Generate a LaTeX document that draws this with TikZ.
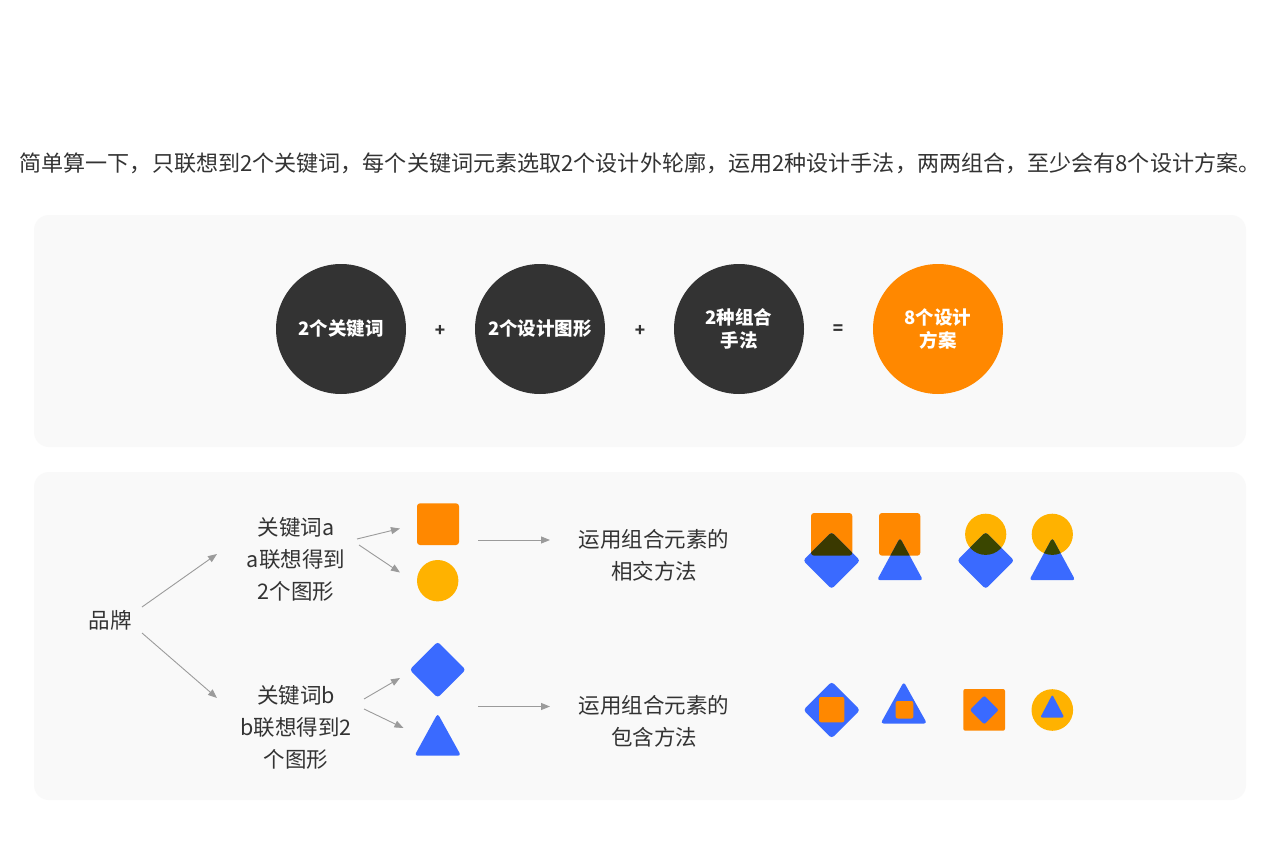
\documentclass[tikz,border=0pt]{standalone}
\usepackage{fontspec}
\setmainfont{Noto Sans CJK SC}
\usetikzlibrary{arrows.meta}
\definecolor{txt}{HTML}{333333}
\definecolor{dark}{HTML}{333333}
\definecolor{org}{HTML}{FF8800}
\definecolor{yel}{HTML}{FFB200}
\definecolor{blu}{HTML}{3A6AFF}
\definecolor{ovO}{HTML}{3A3900}
\definecolor{ovY}{HTML}{3A4600}
\definecolor{panel}{HTML}{F9F9F9}
\definecolor{arrgray}{HTML}{9B9B9B}
\tikzset{
  panelbox/.style={fill=panel, rounded corners=15pt},
  bigcirc/.style={circle, minimum size=130pt, inner sep=0pt, fill=dark, text=white,
     font=\fontsize{18.5}{23}\selectfont\bfseries, align=center},
  opsym/.style={text=txt, font=\fontsize{17}{20}\selectfont\bfseries},
  body/.style={text=txt, font=\fontsize{21.5}{32}\selectfont, align=center},
  arr/.style={draw=arrgray, line width=0.9pt, -{Triangle[length=9pt,width=7pt]}},
  shp/.style={rounded corners=3pt},
  shps/.style={rounded corners=2pt}
}
\begin{document}
\begin{tikzpicture}[x=1pt,y=-1pt]
\useasboundingbox[fill=white] (0,0) rectangle (1280,864);

% title
\node[text=txt, font=\fontsize{22.07}{26}\selectfont] (title) at (640,163)
  {简单算一下，只联想到2个关键词，每个关键词元素选取2个设计外轮廓，运用2种设计手法，两两组合，至少会有8个设计方案。};

% panels
\fill[panelbox] (34,215) rectangle (1246,447);
\fill[panelbox] (34,472) rectangle (1246,800);

% top circles
\node[bigcirc] (c1) at (341,329) {2个关键词};
\node[opsym] (p1) at (440,331) {+};
\node[bigcirc] (c2) at (540,329) {2个设计图形};
\node[opsym] (p2) at (640,331) {+};
\node[bigcirc] (c3) at (739,329) {2种组合\\手法};
\node[opsym] (eq) at (838,330) {=};
\node[bigcirc, fill=org] (c4) at (938,329) {8个设计\\方案};

% left texts
\node[body] (brand) at (110,620) {品牌};
\node[body] (ka) at (296,559) {关键词a\\a联想得到\\2个图形};
\node[body] (kb) at (296,727) {关键词b\\b联想得到2\\个图形};
\node[body] (ma) at (654,555) {运用组合元素的\\相交方法};
\node[body] (mb) at (654,721) {运用组合元素的\\包含方法};

% arrow endpoints
\coordinate (b1s) at (142,607);
\coordinate (b1e) at (217,554);
\coordinate (b2s) at (142,633);
\coordinate (b2e) at (217,698);
\coordinate (a1s) at (357,539);
\coordinate (a1e) at (400,528.5);
\coordinate (a2s) at (359,545);
\coordinate (a2e) at (400,572.5);
\coordinate (a3s) at (478,540);
\coordinate (a3e) at (550,540);
\coordinate (d1s) at (364,699);
\coordinate (d1e) at (400,678);
\coordinate (d2s) at (364,709);
\coordinate (d2e) at (403.5,728);
\coordinate (d3s) at (478,706.5);
\coordinate (d3e) at (550,706.5);

\draw[arr] (b1s) -- (b1e);
\draw[arr] (b2s) -- (b2e);
\draw[arr] (a1s) -- (a1e);
\draw[arr] (a2s) -- (a2e);
\draw[arr] (a3s) -- (a3e);
\draw[arr] (d1s) -- (d1e);
\draw[arr] (d2s) -- (d2e);
\draw[arr] (d3s) -- (d3e);

% source shapes
\fill[org, shp] (417,503.3) rectangle (459,545);
\fill[yel] (437.7,580.7) circle (20.7);
\fill[blu, shp] (437.7,641.7) -- ++(28,28) -- ++(-28,28) -- ++(-28,-28) -- cycle;
\fill[blu, shp] (437.7,713.5) -- (461,755.7) -- (414.5,755.7) -- cycle;

% ---- intersection combos ----
% 1: square + diamond
\fill[org, shp] (811,513) rectangle (852.3,555.7);
\fill[blu, shp] (831.6,532) -- ++(28.5,28.5) -- ++(-28.5,28.5) -- ++(-28.5,-28.5) -- cycle;
\begin{scope}
  \clip[shp] (811,513) rectangle (852.3,555.7);
  \fill[ovO, shp] (831.6,532) -- ++(28.5,28.5) -- ++(-28.5,28.5) -- ++(-28.5,-28.5) -- cycle;
\end{scope}
% 2: square + triangle
\fill[org, shp] (879,513) rectangle (920.3,555.7);
\fill[blu, shp] (900,537.8) -- (923,580.2) -- (877,580.2) -- cycle;
\begin{scope}
  \clip[shp] (879,513) rectangle (920.3,555.7);
  \fill[ovO, shp] (900,537.8) -- (923,580.2) -- (877,580.2) -- cycle;
\end{scope}
% 3: circle + diamond
\fill[yel] (985.7,534.3) circle (20.6);
\fill[blu, shp] (985.7,532) -- ++(28.5,28.5) -- ++(-28.5,28.5) -- ++(-28.5,-28.5) -- cycle;
\begin{scope}
  \clip (985.7,534.3) circle (20.6);
  \fill[ovY, shp] (985.7,532) -- ++(28.5,28.5) -- ++(-28.5,28.5) -- ++(-28.5,-28.5) -- cycle;
\end{scope}
% 4: circle + triangle
\fill[yel] (1052.3,534.3) circle (20.6);
\fill[blu, shp] (1052.3,537.8) -- (1075.3,580.2) -- (1029.3,580.2) -- cycle;
\begin{scope}
  \clip (1052.3,534.3) circle (20.6);
  \fill[ovY, shp] (1052.3,537.8) -- (1075.3,580.2) -- (1029.3,580.2) -- cycle;
\end{scope}

% ---- containment combos ----
% 5: diamond containing square
\fill[blu, shp] (831.7,681.7) -- ++(28.3,28.3) -- ++(-28.3,28.3) -- ++(-28.3,-28.3) -- cycle;
\fill[org, shps] (819,697) rectangle (844.3,722.3);
% 6: triangle containing square
\fill[blu, shp] (903.8,681.8) -- (927,723.5) -- (880.6,723.5) -- cycle;
\fill[org, shps] (895.7,701) rectangle (913.3,718.5);
% 7: square containing diamond
\fill[org, shps] (963.3,689) rectangle (1005,730.7);
\fill[blu, shps] (984.3,695.6) -- ++(14.4,14.4) -- ++(-14.4,14.4) -- ++(-14.4,-14.4) -- cycle;
% 8: circle containing triangle
\fill[yel] (1052.3,710) circle (20.8);
\fill[blu, shps] (1052.3,694.6) -- (1064.3,717.5) -- (1040.3,717.5) -- cycle;
\end{tikzpicture}
\end{document}
